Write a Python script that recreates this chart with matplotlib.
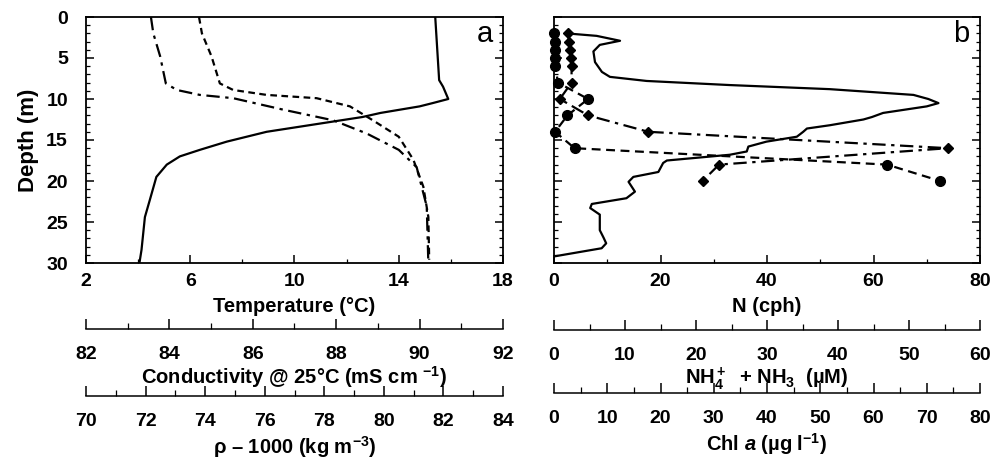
import numpy as np
import matplotlib
matplotlib.use("Agg")
import matplotlib.pyplot as plt
from matplotlib.ticker import MultipleLocator, FixedLocator

plt.rcParams['font.family'] = ['Liberation Sans', 'DejaVu Sans']
plt.rcParams['font.weight'] = 'bold'
plt.rcParams['mathtext.fontset'] = 'custom'
plt.rcParams['mathtext.rm'] = 'Liberation Sans:bold'
plt.rcParams['mathtext.bf'] = 'Liberation Sans:bold'
plt.rcParams['mathtext.it'] = 'Liberation Sans:bold:italic'

# panel a: temperature profile
temp_depth = [0, 7.7, 8.5, 10.0, 10.5, 10.9, 11.7, 12.2, 14.0, 15.2, 16.2, 17.0, 18.0, 19.5, 22.3, 24.4, 28.4, 30]
temp = [15.4, 15.55, 15.7, 15.9, 15.3, 14.8, 13.3, 12.6, 8.93, 7.4, 6.37, 5.6, 5.1, 4.7, 4.45, 4.26, 4.13, 4.05]

# conductivity (mS/cm) profile
cond_depth = [0, 2.0, 4.8, 8.1, 8.9, 9.5, 9.9, 10.9, 12.6, 14.6, 17.4, 20.7, 24.4, 29.6]
cond = [84.71, 84.78, 85.01, 85.21, 85.53, 86.33, 87.53, 88.33, 88.88, 89.5, 89.85, 90.09, 90.21, 90.23]

# density anomaly profile
rho_depth = [0, 2.0, 4.8, 8.1, 8.9, 9.5, 9.9, 11.3, 12.6, 14.2, 16.2, 18.3, 23.1, 29.6]
rho = [72.18, 72.26, 72.49, 72.68, 73.05, 73.82, 74.94, 76.62, 78.3, 79.42, 80.5, 81.1, 81.44, 81.49]

# panel b: buoyancy frequency
n_depth = [29.2, 28.2, 27.6, 26.9, 26.0, 24.1, 23.3, 22.8, 22.1, 21.3, 20.1, 19.5, 18.9, 17.8, 17.5,
           16.8, 16.4, 15.8, 15.2, 14.6, 14.0, 13.6, 13.2, 12.5, 12.2, 11.7, 10.9, 10.5, 10.0, 9.5,
           8.8, 8.3, 7.8, 7.3, 6.7, 5.5, 4.2, 3.4, 2.9, 2.3, 2.0]
n_cph = [0, 8.95, 9.8, 9.3, 8.6, 8.6, 6.8, 7.1, 13.6, 15.2, 14.0, 14.9, 19.6, 20.5, 21.2,
         33.0, 36.2, 36.5, 39.9, 45.6, 46.8, 47.5, 51.8, 58.1, 59.7, 61.8, 70.0, 72.2, 70.3, 67.5,
         51.8, 33.0, 17.4, 10.5, 9.0, 7.7, 7.4, 8.6, 12.4, 8.0, 2.4]

# bottle samples
samp_depth = [2, 3, 4, 5, 6, 8, 10, 12, 14, 16, 18, 20]
nh4 = [0, 0.15, 0.15, 0.2, 0.2, 0.55, 4.8, 1.9, 0.15, 2.9, 46.9, 54.4]
chl = [2.7, 2.8, 3.0, 3.1, 3.3, 3.3, 1.1, 6.4, 17.7, 74.0, 31.0, 27.9]

temp_ticks = [2, 6, 10, 14, 18]

W, H = 994, 459
fig = plt.figure(figsize=(W / 100, H / 100), dpi=100)

fs = 14
lfs = 14.5
lw = 1.6
dash = (0, (3, 2))
dashdot = (0, (6, 2.5, 1.5, 2.5))


def px(x0, y0, x1, y1):
    return [x0 / W, 1 - y1 / H, (x1 - x0) / W, (y1 - y0) / H]


def style_main(ax):
    for s in ax.spines.values():
        s.set_linewidth(1.3)
    ax.set_ylim(30, 0)
    ax.yaxis.set_major_locator(MultipleLocator(5))
    ax.yaxis.set_minor_locator(MultipleLocator(1))
    ax.tick_params(which='both', direction='in', top=True, right=True, labelsize=fs)
    ax.tick_params(axis='x', which='both', pad=7)
    ax.tick_params(axis='y', which='both', pad=13)
    ax.tick_params(which='major', length=6, width=1.1)
    ax.tick_params(which='minor', length=3, width=0.9)


axa = fig.add_axes(px(86, 17, 503, 263))
axb = fig.add_axes(px(554, 17, 980, 263))
style_main(axa)
style_main(axb)

axa.plot(temp, temp_depth, color='black', lw=lw)
axa.set_xlim(2, 18)
axa.xaxis.set_major_locator(FixedLocator(temp_ticks))
axa.xaxis.set_minor_locator(MultipleLocator(2))
axa.set_xlabel('Temperature (°C)', fontsize=lfs, fontweight='bold', labelpad=5)
axa.set_ylabel('Depth (m)', fontsize=16, fontweight='bold', labelpad=5)
axa.text(0.975, 0.93, 'a', transform=axa.transAxes, ha='right', va='center', fontsize=21, fontweight='normal')

# conductivity and density on hidden twins sharing the depth axis
axc = axa.twiny()
axc.set_xlim(82, 92)
axc.axis('off')
axc.plot(cond, cond_depth, color='black', lw=lw, linestyle=dash)
axr = axa.twiny()
axr.set_xlim(70, 84)
axr.axis('off')
axr.plot(rho, rho_depth, color='black', lw=lw, linestyle=dashdot)

axb.plot(n_cph, n_depth, color='black', lw=lw)
axb.set_xlim(0, 80)
axb.xaxis.set_major_locator(MultipleLocator(20))
axb.xaxis.set_minor_locator(MultipleLocator(10))
axb.set_yticklabels([])
axb.set_xlabel('N (cph)', fontsize=lfs, fontweight='bold', labelpad=5)
axb.text(0.975, 0.93, 'b', transform=axb.transAxes, ha='right', va='center', fontsize=21, fontweight='normal')

axn = axb.twiny()
axn.set_xlim(0, 60)
axn.axis('off')
axn.plot(nh4, samp_depth, color='black', lw=lw, linestyle=(0, (4, 2.5)), marker='o', ms=7, clip_on=False)
axh = axb.twiny()
axh.set_xlim(0, 80)
axh.axis('off')
axh.plot(chl, samp_depth, color='black', lw=lw, linestyle=dashdot, marker='D', ms=5.5, clip_on=False)


def scale_bar(x0, x1, y, lim, major, minor, label, lpad):
    ax = fig.add_axes([x0 / W, 1 - y / H, (x1 - x0) / W, 0.0001])
    for s in ('top', 'left', 'right'):
        ax.spines[s].set_visible(False)
    ax.spines['bottom'].set_linewidth(1.1)
    ax.set_yticks([])
    ax.set_xlim(*lim)
    ax.xaxis.set_major_locator(MultipleLocator(major))
    ax.xaxis.set_minor_locator(MultipleLocator(minor))
    ax.tick_params(which='both', direction='in', labelsize=fs, pad=12)
    ax.tick_params(which='major', length=7, width=1.1)
    ax.tick_params(which='minor', length=4, width=0.9)
    ax.set_xlabel(label, fontsize=lfs, fontweight='bold', labelpad=lpad)
    return ax


scale_bar(86, 503, 329, (82, 92), 2, 1, 'Conductivity @ 25°C (mS cm $^{-1}$)', 1)
scale_bar(86, 503, 396, (70, 84), 2, 1, 'ρ – 1000 (kg m$^{-3}$)', 3)
scale_bar(554, 980, 330, (0, 60), 10, 5, r'NH$_4^+$  + NH$_3$  (µM)', 1)
scale_bar(554, 980, 393, (0, 80), 10, 5, r'Chl $a$ (µg l$^{-1}$)', 3)

fig.savefig('out.png', dpi=100)
